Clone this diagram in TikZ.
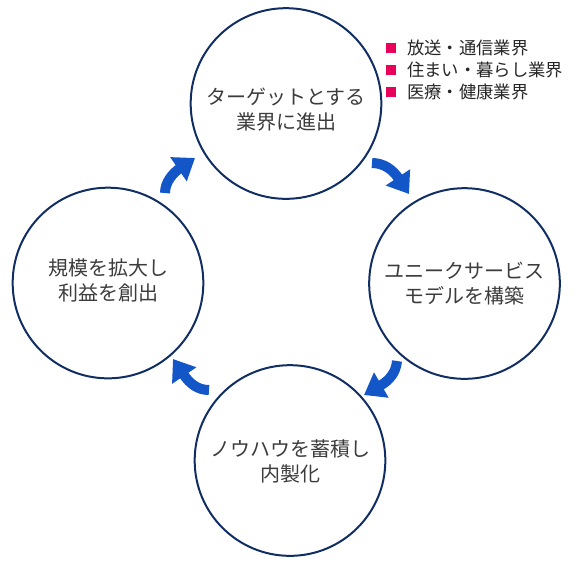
\documentclass[tikz,border=0pt]{standalone}
\usepackage{fontspec}
\setmainfont{Noto Sans CJK JP}
\usetikzlibrary{arrows.meta}
\definecolor{ringc}{RGB}{16,46,100}
\definecolor{arrowc}{RGB}{18,86,200}
\definecolor{txtc}{RGB}{60,60,60}
\definecolor{legc}{RGB}{232,0,90}
\tikzset{
  ring/.style={circle, draw=ringc, line width=1.5pt, minimum size=143pt, inner sep=0pt},
  ringtext/.style={text=txtc, font=\fontsize{15pt}{18.8pt}\selectfont, align=center, inner sep=0pt},
  cyc/.style={draw=arrowc, line width=7.5pt, -{Triangle[width=21pt,length=15pt]}, arrowc},
  legsq/.style={fill=legc, minimum size=7.5pt, inner sep=0pt},
  legtext/.style={text=black!85, font=\fontsize{13pt}{15pt}\selectfont, anchor=west, inner sep=0pt}
}
\begin{document}
\begin{tikzpicture}[x=0.75pt,y=-0.75pt]
\useasboundingbox (0,0) rectangle (584,569);
% circles
\node[ring] (top) at (286,103.5) {};
\node[ring] (right) at (464.5,283.5) {};
\node[ring] (bottom) at (290,460.5) {};
\node[ring] (left) at (108,283) {};
% texts
\node[ringtext] (ttop) at (286,110) {ターゲットとする\\業界に進出};
\node[ringtext] (tright) at (464.5,284) {ユニークサービス\\モデルを構築};
\node[ringtext] (tbottom) at (290,461) {ノウハウを蓄積し\\内製化};
\node[ringtext] (tleft) at (108,280.5) {規模を拡大し\\利益を創出};
% cycle arrows
\draw[cyc] (372,163) .. controls (384,163) and (393,170) .. (409,194);
\draw[cyc] (397,361) .. controls (396,372) and (390,380) .. (364,395);
\draw[cyc] (209,390) .. controls (198,390) and (190,384) .. (173,359);
\draw[cyc] (165,193) .. controls (165,182) and (173,173) .. (195,158);
% legend
\node[legsq] (s1) at (390.5,48) {};
\node[legsq] (s2) at (390.5,70) {};
\node[legsq] (s3) at (390.5,91.5) {};
\node[legtext] (l1) at (407,48) {放送・通信業界};
\node[legtext] (l2) at (407,70) {住まい・暮らし業界};
\node[legtext] (l3) at (407,91.5) {医療・健康業界};
\end{tikzpicture}
\end{document}
